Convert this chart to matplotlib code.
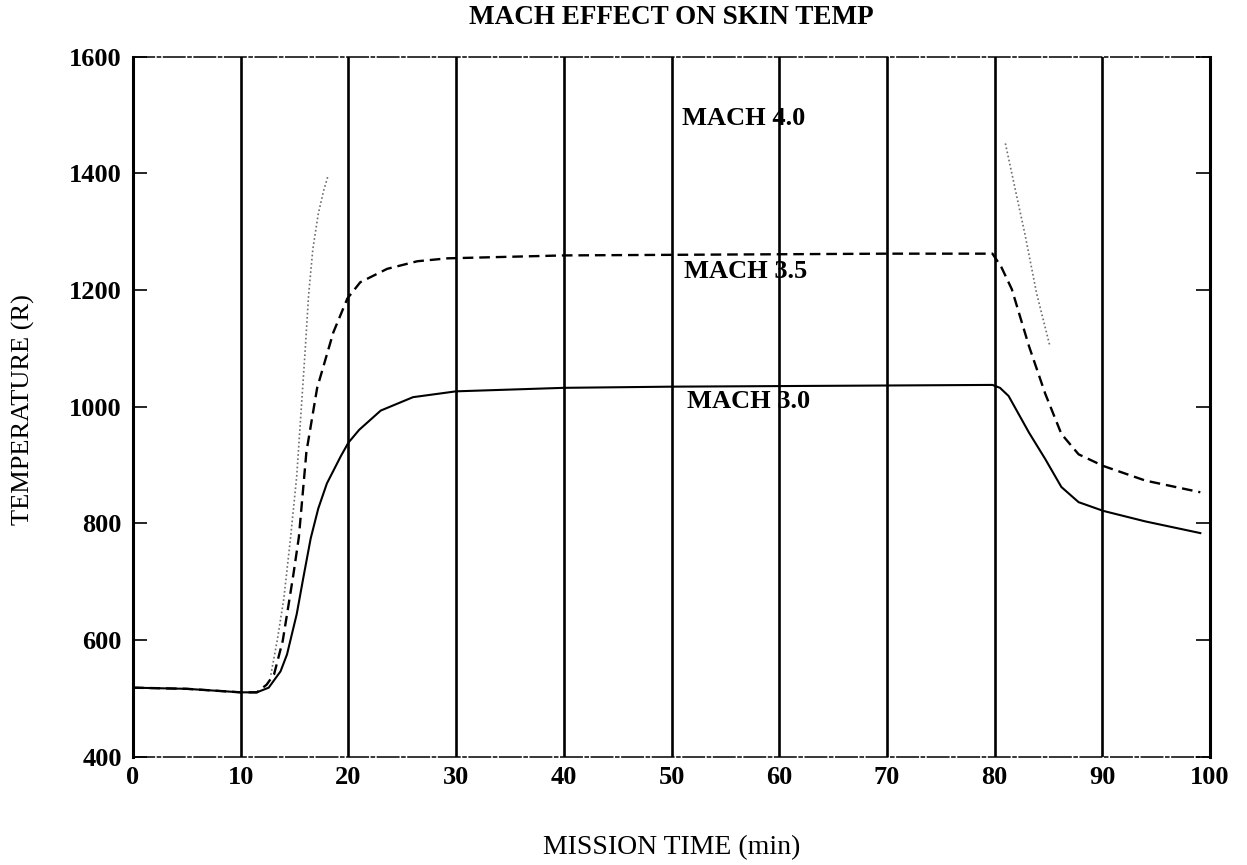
import numpy as np
import matplotlib
matplotlib.use('Agg')
import matplotlib.pyplot as plt

# skin temperature vs mission time, read per Mach number
t_m30 = [0, 5, 10, 11.5, 12.6, 13.7, 14.3, 15.2, 15.8, 16.5, 17.2, 18.0, 19.3, 20, 21, 23,
         26, 30, 40, 50, 60, 70, 79.8, 80.5, 81.3, 83.2, 84.7, 86.2, 87.8, 90.1, 94, 99.1]
T_m30 = [518, 516, 510, 510, 518, 546, 575, 644, 705, 774, 825, 868, 915, 938, 960, 993,
         1016, 1026, 1032, 1034, 1035, 1036, 1037, 1032, 1018, 955, 910, 862, 836, 821,
         803, 783]

t_m35 = [0, 5, 10, 11.5, 12.4, 13.1, 13.9, 14.4, 14.9, 15.4, 16.1, 17.1, 18.6, 19.9, 21.1,
         23.6, 26.4, 29.2, 40, 50, 60, 70, 79.8, 80.6, 81.6, 83.2, 84.7, 86.2, 87.8, 90.1,
         94, 99.1]
T_m35 = [518, 516, 510, 510, 523, 541, 598, 655, 713, 776, 922, 1032, 1127, 1185, 1213,
         1236, 1249, 1254, 1259, 1260, 1261, 1262, 1262, 1240, 1201, 1103, 1022, 953, 918,
         898, 873, 853]

# mach 4.0 trace only survives on the climb and the descent
t_m40 = [12.8, 13.4, 14.0, 14.6, 15.2, 15.6, 16.0, 16.3, 16.7, 17.2, 17.7, 18.1, np.nan,
         81.0, 82.2, 82.8, 83.9, 85.1]
T_m40 = [540, 600, 670, 770, 880, 990, 1100, 1190, 1270, 1330, 1370, 1395, np.nan,
         1451, 1348, 1297, 1194, 1106]

labels = ['MACH 4.0', 'MACH 3.5', 'MACH 3.0']
label_x = [51.0, 51.2, 51.4]
label_y = [1493, 1232, 1009]

x_ticks = list(range(0, 101, 10))
y_ticks = list(range(400, 1601, 200))

plt.rcParams['font.family'] = ['Liberation Serif', 'DejaVu Serif']

fig = plt.figure(figsize=(12.47, 8.65), dpi=100)
ax = fig.add_axes([133 / 1247, 1 - 756.5 / 865, 1077 / 1247, 700 / 865])

for xv in x_ticks[1:-1]:
    ax.axvline(xv, color='black', lw=1.9, zorder=1)

ax.plot(t_m30, T_m30, color='black', lw=1.5, zorder=3)
ax.plot(t_m35, T_m35, color='black', lw=1.7, ls=(0, (4.5, 2.5)), zorder=3)
ax.plot(t_m40, T_m40, color='#6e6e6e', lw=1.2, ls=(0, (1, 1.5)), zorder=3)

for lab, lx, ly in zip(labels, label_x, label_y):
    ax.text(lx, ly, lab, fontsize=19, fontweight='bold', va='center', ha='left', zorder=4)

ax.set_xlim(0, 100)
ax.set_ylim(400, 1600)
ax.set_xticks(x_ticks)
ax.set_yticks(y_ticks)
ax.tick_params(axis='x', length=0, pad=7, labelsize=19)
ax.tick_params(axis='y', direction='in', length=10, width=1.2, right=True, pad=8,
               labelsize=19)
for lbl in ax.get_xticklabels() + ax.get_yticklabels():
    lbl.set_fontweight('bold')

for side in ['left', 'right']:
    ax.spines[side].set_linewidth(2.2)
for side in ['top', 'bottom']:
    ax.spines[side].set_linewidth(1.1)
    ax.spines[side].set_linestyle((0, (14, 2, 2, 2)))

ax.text(0.5, 1.055, 'MACH EFFECT ON SKIN TEMP', transform=ax.transAxes, ha='center',
        va='center', fontsize=19.5, fontweight='bold')
ax.set_xlabel('MISSION TIME (min)', fontsize=20)
ax.xaxis.set_label_coords(0.5, -0.112)
ax.set_ylabel('TEMPERATURE (R)', fontsize=19)
ax.yaxis.set_label_coords(-0.091, 0.495)

fig.savefig('out.png', dpi=100)
